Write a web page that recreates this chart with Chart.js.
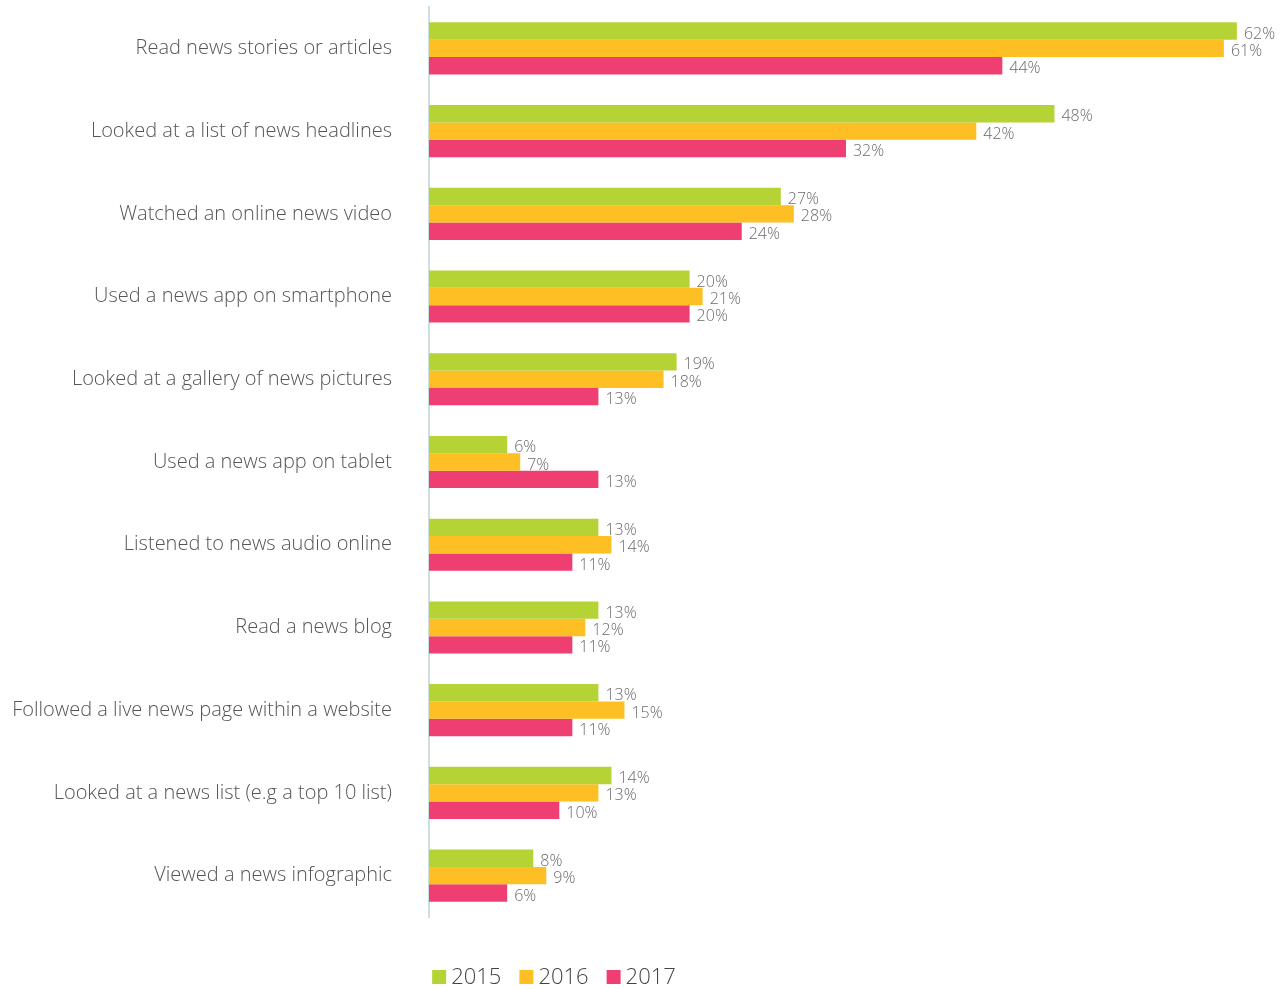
<!DOCTYPE html>
<html>
<head>
<meta charset="utf-8">
<script src="https://cdn.jsdelivr.net/npm/chart.js@4"></script>
<style>
  html, body { margin: 0; padding: 0; background: #ffffff; }
  #wrap { width: 1280px; height: 989px; position: relative; }
</style>
</head>
<body>
<div id="wrap"><canvas id="c" width="1280" height="989"></canvas></div>
<script>
// Online news activities, share of respondents by year (%)
const categories = [
  "Read news stories or articles",
  "Looked at a list of news headlines",
  "Watched an online news video",
  "Used a news app on smartphone",
  "Looked at a gallery of news pictures",
  "Used a news app on tablet",
  "Listened to news audio online",
  "Read a news blog",
  "Followed a live news page within a website",
  "Looked at a news list (e.g a top 10 list)",
  "Viewed a news infographic"
];
const years = ["2015", "2016", "2017"];
const values2015 = [62, 48, 27, 20, 19, 6, 13, 13, 13, 14, 8];
const values2016 = [61, 42, 28, 21, 18, 7, 14, 12, 15, 13, 9];
const values2017 = [44, 32, 24, 20, 13, 13, 11, 11, 11, 10, 6];
const colors = ["#b5d334", "#fdbf23", "#ef3e72"];

const FONT = "'Open Sans', 'Noto Sans', sans-serif";

// Percentage labels at the end of each bar
const valueLabels = {
  id: "valueLabels",
  afterDatasetsDraw(chart) {
    const ctx = chart.ctx;
    ctx.save();
    ctx.font = "300 16px " + FONT;
    ctx.fillStyle = "#6b6b6b";
    ctx.textAlign = "left";
    ctx.textBaseline = "middle";
    chart.data.datasets.forEach((ds, i) => {
      const meta = chart.getDatasetMeta(i);
      meta.data.forEach((bar, j) => {
        const txt = ds.data[j] + "%";
        let x = bar.x + 7;
        const w = ctx.measureText(txt).width;
        if (x + w > chart.width - 4) x = chart.width - 4 - w;
        ctx.fillText(txt, x, bar.y + 3);
      });
    });
    ctx.restore();
  }
};

// Legend row under the plot
const bottomLegend = {
  id: "bottomLegend",
  afterDraw(chart) {
    const ctx = chart.ctx;
    ctx.save();
    ctx.font = "300 22px " + FONT;
    ctx.textBaseline = "middle";
    ctx.textAlign = "left";
    const box = 14, gapText = 5, gapItem = 18;
    const items = chart.data.datasets.map(ds => ({
      label: ds.label, color: ds.backgroundColor,
      w: box + gapText + ctx.measureText(ds.label).width
    }));
    const total = items.reduce((s, it) => s + it.w, 0) + gapItem * (items.length - 1);
    let x = 554 - total / 2;
    const y = 978;
    items.forEach(it => {
      ctx.fillStyle = it.color;
      ctx.fillRect(x, y - box / 2 - 1, box, box);
      ctx.fillStyle = "#444444";
      ctx.fillText(it.label, x + box + gapText, y);
      x += it.w + gapItem;
    });
    ctx.restore();
  }
};

new Chart(document.getElementById("c"), {
  type: "bar",
  data: {
    labels: categories,
    datasets: [
      { label: years[0], data: values2015, backgroundColor: colors[0] },
      { label: years[1], data: values2016, backgroundColor: colors[1] },
      { label: years[2], data: values2017, backgroundColor: colors[2] }
    ]
  },
  options: {
    indexAxis: "y",
    responsive: false,
    animation: false,
    layout: { padding: { top: 7, bottom: 72, left: 0, right: 4 } },
    datasets: { bar: { categoryPercentage: 0.63, barPercentage: 1.0 } },
    plugins: {
      legend: { display: false },
      tooltip: { enabled: false }
    },
    scales: {
      x: {
        display: false,
        min: 0,
        max: 65
      },
      y: {
        afterFit(scale) {
          scale.width = 429;
          scale.paddingTop = 0;
          scale.paddingBottom = 0;
        },
        grid: { display: false, drawTicks: false },
        border: { display: true, color: "#cde0e0", width: 2 },
        ticks: {
          padding: 37,
          color: "#555555",
          font: { family: FONT, size: 20, weight: 300 }
        }
      }
    }
  },
  plugins: [valueLabels, bottomLegend]
});
</script>
</body>
</html>
